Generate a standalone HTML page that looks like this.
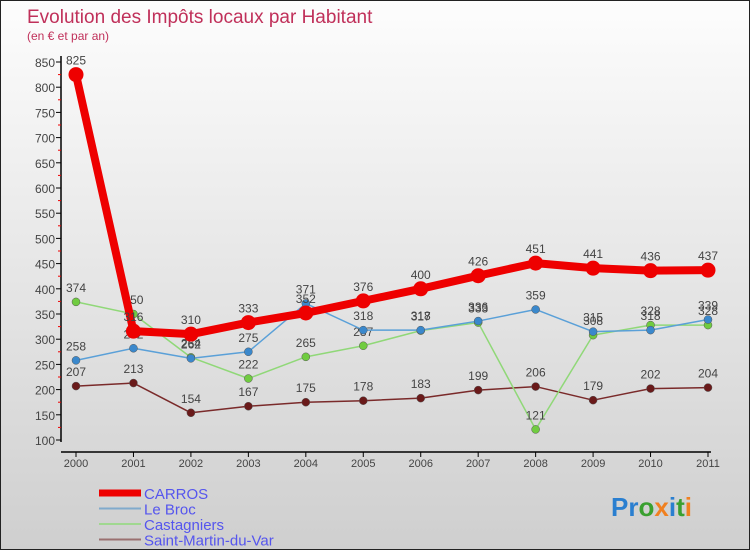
<!DOCTYPE html>
<html><head><meta charset="utf-8"><style>
body{margin:0}
#wrap{width:750px;height:550px;position:relative;overflow:hidden;box-sizing:border-box;border:1px solid #222;background:linear-gradient(#fdfdfd,#cfcfcf);font-family:"Liberation Sans","DejaVu Sans",sans-serif}
svg text{font-family:"Liberation Sans","DejaVu Sans",sans-serif}
</style></head><body>
<div id="wrap">
<svg id="chart" width="750" height="550">
<text x="26" y="22" font-size="19" fill="#c0305a">Evolution des Impôts locaux par Habitant</text>
<text x="26" y="39" font-size="12" fill="#c0305a">(en € et par an)</text>
<g id="axes"></g><g id="series"></g>
<g id="legend"></g>
<text x="610" y="515" font-size="26" font-weight="bold"><tspan fill="#2a7fd0">Pr</tspan><tspan fill="#3aa030">o</tspan><tspan fill="#f08020">x</tspan><tspan fill="#2a7fd0">i</tspan><tspan fill="#3aa030">t</tspan><tspan fill="#f08020">i</tspan></text>
</svg></div>
<script>
const years=[2000,2001,2002,2003,2004,2005,2006,2007,2008,2009,2010,2011];
const carros=[825,316,310,333,352,376,400,426,451,441,436,437];
const leBroc=[258,282,262,275,371,318,318,336,359,315,318,339];
const castagniers=[374,350,264,222,265,287,317,333,121,308,328,328];
const saintMartin=[207,213,154,167,175,178,183,199,206,179,202,204];
const yTicks=[100,150,200,250,300,350,400,450,500,550,600,650,700,750,800,850];
const NS="http://www.w3.org/2000/svg";
function X(i){return 75+i*(707-75)/(years.length-1);}
function Y(v){return 439-(v-100)*(439-61)/750;}
function mk(tag,attrs,parent){const e=document.createElementNS(NS,tag);for(const k in attrs)e.setAttribute(k,attrs[k]);parent.appendChild(e);return e;}
const ax=document.getElementById('axes');
let l=mk('line',{x1:60,y1:55,x2:60,y2:441,stroke:'#000','stroke-width':1.5},ax);


l=mk('line',{x1:60,y1:451,x2:710,y2:451,stroke:'#000','stroke-width':1.5},ax);


yTicks.forEach((v,k)=>{
 mk('line',{x1:55,y1:Y(v),x2:60,y2:Y(v),stroke:'#000'},ax);
 if(k<yTicks.length-1)mk('line',{x1:57,y1:Y(v+25),x2:60,y2:Y(v+25),stroke:'#e00'},ax);
 const t=mk('text',{x:54,y:Y(v)+5,'font-size':12,fill:'#444','text-anchor':'end'},ax);t.textContent=v;
 
 
});
years.forEach((y,i)=>{
 mk('line',{x1:X(i),y1:451,x2:X(i),y2:456,stroke:'#000'},ax);
 const t=mk('text',{x:X(i),y:466,'font-size':11,fill:'#444','text-anchor':'middle'},ax);t.textContent=y;
 
 
});
const sg=document.getElementById('series');
const defs=[
 {d:saintMartin,c:'#7a2a2a',f:'#6a1a1a',w:1.5,r:4,n:'saint-martin-du-var'},
 {d:castagniers,c:'#90d878',f:'#70cc40',w:1.5,r:4,n:'castagniers'},
 {d:leBroc,c:'#5aa0d8',f:'#3a88cc',w:1.5,r:4,n:'le-broc'},
 {d:carros,c:'#ee0000',f:'#ee0000',w:8,r:7.5,n:'carros'}];
defs.forEach(s=>{
 const g=mk('g',{},sg);
 
 
 const p=mk('polyline',{points:s.d.map((v,i)=>X(i)+','+Y(v)).join(' '),fill:'none',stroke:s.c,'stroke-width':s.w,'stroke-linejoin':'round'},g);
 
 
 s.d.forEach((v,i)=>{
  const c=mk('circle',{cx:X(i),cy:Y(v),r:s.r,fill:s.f,stroke:s.w>2?'none':'#555','stroke-width':0.5},g);
  
  
  const t=mk('text',{x:X(i),y:Y(v)-10,'font-size':12,fill:'#444','text-anchor':'middle'},g);t.textContent=v;
  
  
 });
});
const lg=document.getElementById('legend');
const leg=[['CARROS','#ee0000',7],['Le Broc','#80aacc',2],['Castagniers','#a0d890',2],['Saint-Martin-du-Var','#9a7070',2]];
leg.forEach((e,k)=>{
 const y=492+k*15.5;
 mk('line',{x1:98,y1:y,x2:140,y2:y,stroke:e[1],'stroke-width':e[2]},lg);
 const t=mk('text',{x:143,y:y+6,'font-size':15,fill:'#5555ee'},lg);t.textContent=e[0];
 
 
});
</script>
</body></html>
